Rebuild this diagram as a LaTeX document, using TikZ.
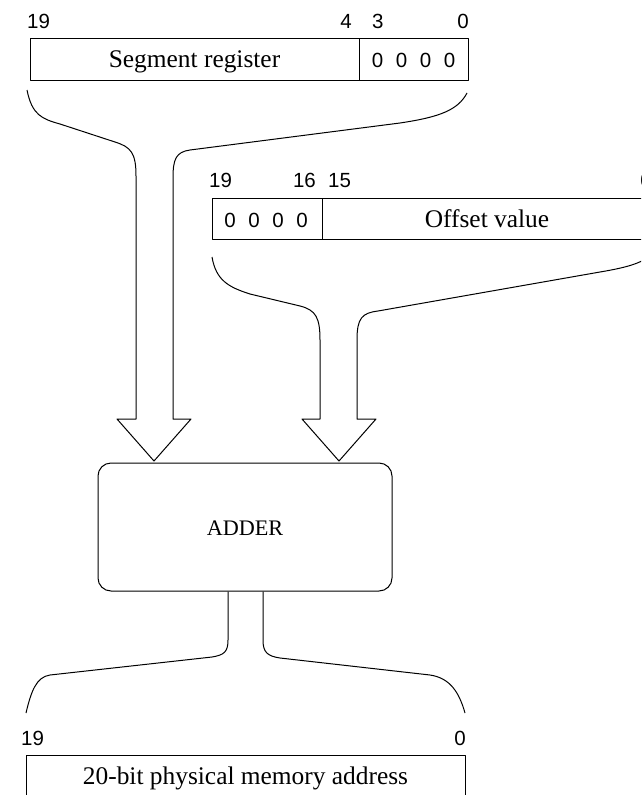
\documentclass[tikz,border=0pt]{standalone}
\usepackage{fontspec}
\setmainfont{Liberation Serif}
\newfontfamily\labfont{Liberation Sans}
\tikzset{
  ln/.style={line width=1pt, line join=round},
  boxtext/.style={inner sep=0pt, anchor=base, font=\fontsize{25.4}{30}\selectfont},
  bitlab/.style={inner sep=0pt, font=\labfont\fontsize{20.5}{24}\selectfont},
  zeros/.style={inner sep=0pt, anchor=base, font=\labfont\fontsize{20.5}{24}\selectfont},
}
\newcommand{\fourzeros}{0\hspace{12.6pt}0\hspace{12.6pt}0\hspace{12.6pt}0}
\begin{document}
\begin{tikzpicture}[x=1pt,y=-1pt]
\useasboundingbox (0,0) rectangle (641,795);
\clip (0,0) rectangle (641,795);

% Segment register
\draw[ln] (30,38) rectangle (468,80);
\draw[ln] (359,38) -- (359,80);
\node[boxtext] (segtxt) at (194.5,67) {Segment register};
\node[zeros] (segzero) at (413.5,67.5) {\fourzeros};
\node[bitlab, anchor=base west] (s19) at (27,28) {19};
\node[bitlab, anchor=base east] (s4) at (352,28) {4};
\node[bitlab, anchor=base west] (s3) at (372,28) {3};
\node[bitlab, anchor=base east] (s0) at (469,28) {0};

% Offset value
\draw[ln] (212,198) rectangle (652,239);
\draw[ln] (322,198) -- (322,239);
\node[zeros] (offzero) at (266,227.5) {\fourzeros};
\node[boxtext] (offtxt) at (487,227) {Offset value};
\node[bitlab, anchor=base west] (o19) at (209,187) {19};
\node[bitlab, anchor=base east] (o16) at (316,187) {16};
\node[bitlab, anchor=base west] (o15) at (328,187) {15};
\node[bitlab, anchor=base east] (o0) at (652,187) {0};

% Adder
\node[ln, draw, rounded corners=13pt, minimum width=294pt, minimum height=128pt,
      inner sep=0pt, text height=16pt, text depth=0pt,
      font=\fontsize{22.2}{27}\selectfont] (adder) at (245,527) {ADDER};

% Result
\draw[ln] (26,755) rectangle (465,805);
\node[boxtext] (restxt) at (245.5,784) {20-bit physical memory address};
\node[bitlab, anchor=base west] (r19) at (21,745) {19};
\node[bitlab, anchor=base east] (r0) at (466,745) {0};

% Segment brace arrow
\draw[ln] (27,90) .. controls (32,115) and (42,119) .. (60,124)
  -- (115,142) .. controls (131,147) and (136,153) .. (136,176)
  -- (136,419) -- (117,419) -- (154,461) -- (191,419) -- (173,419)
  -- (173,178) .. controls (173,159) and (176,152) .. (190,150)
  -- (400,123) .. controls (440,117) and (458,110) .. (467,93);

% Offset brace arrow
\draw[ln] (212,257) .. controls (216,280) and (228,287) .. (250,294)
  -- (300,306) .. controls (316,310) and (320,318) .. (320,340)
  -- (320,419) -- (302,419) -- (339,461) -- (376,419) -- (357,419)
  -- (357,340) .. controls (357,318) and (362,313) .. (378,311)
  -- (600,272) .. controls (630,267) and (645,262) .. (652,253);

% Output brace
\draw[ln] (adder.south -| 228,0) -- (228,640) .. controls (228,652) and (224,655) .. (212,657)
  -- (50,675) .. controls (36,677) and (31,692) .. (26,713);
\draw[ln] (adder.south -| 263,0) -- (263,640) .. controls (263,652) and (267,656) .. (280,658)
  -- (430,675) .. controls (450,678) and (459,692) .. (465,713);
\end{tikzpicture}
\end{document}
